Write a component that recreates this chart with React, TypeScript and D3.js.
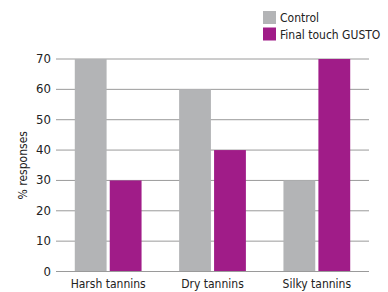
import React, { useRef, useEffect } from "react";
import * as d3 from "d3";

const categories = ["Harsh tannins", "Dry tannins", "Silky tannins"];
const seriesNames = ["Control", "Final touch GUSTO"];
const controlValues = [70, 60, 30];
const gustoValues = [30, 40, 70];
const yTicks = [0, 10, 20, 30, 40, 50, 60, 70];

const colors = ["#b3b4b6", "#a01c88"];
const font = "'DejaVu Sans Condensed', 'DejaVu Sans', sans-serif";

const App = () => {
  const ref = useRef<SVGSVGElement>(null);

  useEffect(() => {
    const svg = d3.select(ref.current);
    svg.selectAll("*").remove();

    const margin = { top: 59, right: 19, bottom: 20.5, left: 56 };
    const width = 388 - margin.left - margin.right;
    const height = 292 - margin.top - margin.bottom;

    const g = svg
      .append("g")
      .attr("transform", `translate(${margin.left},${margin.top})`);

    const x0 = d3.scaleBand().domain(categories).range([0, width]).paddingInner(0.36).paddingOuter(0.18);
    const x1 = d3.scaleBand().domain(seriesNames).range([0, x0.bandwidth()]).paddingInner(0.09);
    const y = d3.scaleLinear().domain([0, 70]).range([height, 0]);

    const txt = (sel: any) =>
      sel
        .style("font-family", font)
        .style("font-stretch", "condensed")
        .style("font-size", "12px")
        .style("fill", "#222");

    // grid lines
    g.selectAll(".grid")
      .data(yTicks)
      .enter()
      .append("line")
      .attr("x1", 0)
      .attr("x2", width)
      .attr("y1", (d) => y(d))
      .attr("y2", (d) => y(d))
      .attr("stroke", "#9a9a9a")
      .attr("stroke-width", 1);

    // tick labels
    g.selectAll(".ytick")
      .data(yTicks)
      .enter()
      .append("text")
      .attr("x", -5)
      .attr("y", (d) => y(d) + 4)
      .attr("text-anchor", "end")
      .call(txt)
      .style("font-size", "13px")
      .text((d) => d);

    const rows = categories.map((c, i) => ({ cat: c, values: [controlValues[i], gustoValues[i]] }));

    const groups = g
      .selectAll(".grp")
      .data(rows)
      .enter()
      .append("g")
      .attr("transform", (d) => `translate(${x0(d.cat)},0)`);

    groups
      .selectAll("rect")
      .data((d) => d.values.map((v, i) => ({ name: seriesNames[i], v, i })))
      .enter()
      .append("rect")
      .attr("x", (d) => x1(d.name)!)
      .attr("width", x1.bandwidth())
      .attr("y", (d) => y(d.v))
      .attr("height", (d) => y(0) - y(d.v))
      .attr("fill", (d) => colors[d.i]);

    // baseline on top
    g.append("line")
      .attr("x1", 0)
      .attr("x2", width)
      .attr("y1", y(0))
      .attr("y2", y(0))
      .attr("stroke", "#9a9a9a");

    // category labels
    g.selectAll(".cat")
      .data(categories)
      .enter()
      .append("text")
      .attr("x", (d) => x0(d)! + x0.bandwidth() / 2)
      .attr("y", height + 16)
      .attr("text-anchor", "middle")
      .call(txt)
      .text((d) => d);

    // y title
    svg
      .append("text")
      .attr("transform", `translate(27,${margin.top + height / 2}) rotate(-90)`)
      .attr("text-anchor", "middle")
      .call(txt)
      .text("% responses");

    // legend
    const legend = svg
      .append("g")
      .attr("transform", "translate(263,11)")
      .selectAll("g")
      .data(seriesNames)
      .enter()
      .append("g")
      .attr("transform", (d, i) => `translate(0,${i * 16.5})`);

    legend
      .append("rect")
      .attr("width", 13)
      .attr("height", 13)
      .attr("fill", (d, i) => colors[i]);

    legend
      .append("text")
      .attr("x", 17)
      .attr("y", 11)
      .call(txt)
      .text((d) => d);
  }, []);

  return (
    <svg
      ref={ref}
      width={388}
      height={292}
      style={{ position: "absolute", left: 0, top: 0, background: "#fff" }}
    />
  );
};

export default App;
